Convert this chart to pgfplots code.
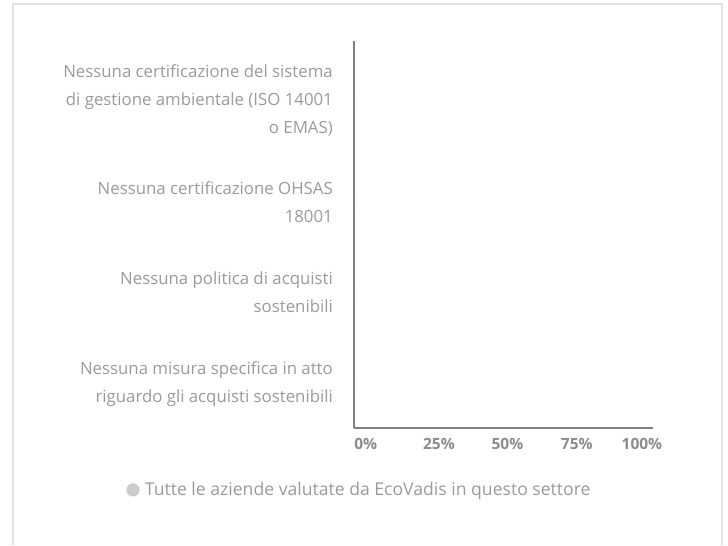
\documentclass[border=0pt]{standalone}
\usepackage{pgfplots}
\pgfplotsset{compat=1.18}
\usepackage{fontspec}
\setmainfont{Open Sans}
\definecolor{framec}{HTML}{E2E2E2}
\definecolor{axisc}{HTML}{808080}
\definecolor{labc}{HTML}{9A9A9A}
\definecolor{tickc}{HTML}{8C8C8C}
\definecolor{legc}{HTML}{CCCCCC}
\begin{document}
\begin{tikzpicture}[x=1pt,y=1pt]
\path (0,0) rectangle (728,545);
\draw[framec, line width=2pt] (13,0) -- (13,541) -- (722,541) -- (722,0);
\begin{axis}[
  at={(354pt,117pt)}, anchor=south west,
  scale only axis, width=299pt, height=387pt,
  xmin=0, xmax=100, ymin=0, ymax=4,
  axis x line*=bottom, axis y line*=left,
  axis line style={axisc, line width=2pt, -},
  xtick={3.9,28.4,51.3,74.5,96.3},
  xticklabels={0\%,25\%,50\%,75\%,100\%},
  ytick={0.45,1.40,2.33,3.39},
  yticklabels={
    {Nessuna misura specifica in atto\\riguardo gli acquisti sostenibili},
    {Nessuna politica di acquisti\\sostenibili},
    {Nessuna certificazione OHSAS\\18001},
    {Nessuna certificazione del sistema\\di gestione ambientale (ISO 14001\\o EMAS)}},
  major tick length=0pt,
  xticklabel style={font=\fontsize{15.5}{17}\selectfont\bfseries, text=tickc, anchor=north, inner sep=0pt, yshift=-10pt},
  yticklabel style={font=\fontsize{16.8}{28}\selectfont, text=labc, align=right, anchor=east, inner sep=0pt, xshift=-21pt},
  legend style={draw=none, fill=none, inner sep=0pt, at={(-0.762,-0.16)}, anchor=west,
    font=\fontsize{17.6}{19}\selectfont, text=labc},
  clip=false,
]
\addplot[xbar, draw=none, fill=legc, bar width=20pt,
  legend image code/.code={\fill[legc] (0pt,0pt) circle (6.6pt); \path (-6.6pt,0pt) -- (10pt,0pt);}]
  coordinates {(0,0.45) (0,1.40) (0,2.33) (0,3.39)};
\addlegendentry{Tutte le aziende valutate da EcoVadis in questo settore}
\end{axis}
\end{tikzpicture}
\end{document}
